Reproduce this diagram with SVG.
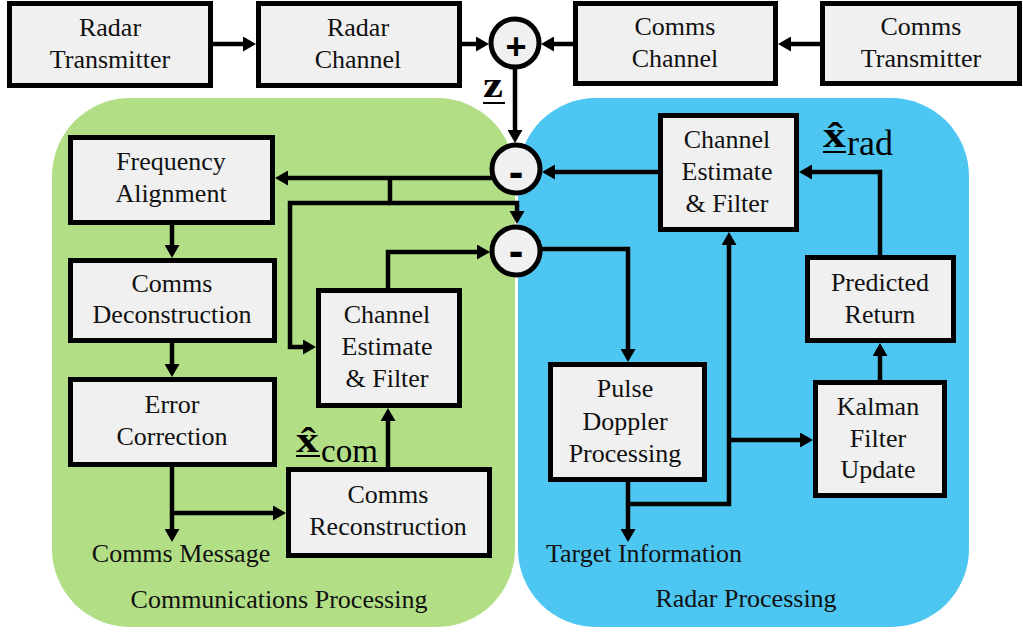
<svg xmlns="http://www.w3.org/2000/svg" width="1023" height="632" viewBox="0 0 1023 632">
<style>
.box{fill:#f0f0f0;stroke:#000;stroke-width:5}
.sum{fill:#f0f0f0;stroke:#000;stroke-width:5}
.t{font-family:"Liberation Serif","Times New Roman",serif;font-size:26px;fill:#111;text-anchor:middle}
.lbl{font-family:"Liberation Serif","Times New Roman",serif;font-size:26px;fill:#111;text-anchor:middle}
.op{font-family:"Liberation Sans",Arial,sans-serif;fill:#000;text-anchor:middle}
.math{font-family:"Liberation Serif","Times New Roman",serif;fill:#000}
.ca{fill:none;stroke:#000;stroke-width:4.5;stroke-linejoin:miter;marker-end:url(#ah)}
.ul{stroke:#000;stroke-width:2}
</style>
<defs>
<marker id="ah" viewBox="0 0 13 15" markerWidth="13" markerHeight="15" refX="7" refY="7.5" orient="auto" markerUnits="userSpaceOnUse">
<path d="M0,0 L13,7.5 L0,15 Z" fill="#000"/>
</marker>
</defs>

<g id="panels">
<rect id="comms-panel" x="52" y="98" width="463" height="529" rx="78" ry="78" fill="#b2df86"/>
<rect id="radar-panel" x="518" y="98" width="451" height="529" rx="78" ry="78" fill="#4dc6f2"/>
</g>

<g id="connectors">
<path class="ca" d="M213,44 H250"/>
<path class="ca" d="M462,44 H483"/>
<path class="ca" d="M573,44 H547"/>
<path class="ca" d="M820,44 H784"/>
<path class="ca" d="M515,68 V137"/>
<path class="ca" d="M660,172 H548"/>
<path class="ca" d="M492,178 H281"/>
<path class="ca" d="M390,178 V203 H517 V218"/>
<path class="ca" d="M390,203 H290 V347 H310"/>
<path class="ca" d="M388,290 V252 H484"/>
<path class="ca" d="M540,249 H628 V356"/>
<path class="ca" d="M172,225 V252"/>
<path class="ca" d="M172,343 V371"/>
<path class="ca" d="M172,467 V536"/>
<path class="ca" d="M172,513 H280"/>
<path class="ca" d="M388,467 V414"/>
<path class="ca" d="M628,482 V536"/>
<path class="ca" d="M628,504 H729 V238"/>
<path class="ca" d="M729,440 H807"/>
<path class="ca" d="M880,380 V349"/>
<path class="ca" d="M880,255 V172 H805"/>
</g>

<g id="radar-transmitter">
<rect class="box" x="9.5" y="3.5" width="201" height="82"/>
<text class="t" x="110" y="36">Radar</text>
<text class="t" x="110" y="68">Transmitter</text>
</g>
<g id="radar-channel">
<rect class="box" x="258.5" y="3.5" width="201" height="82"/>
<text class="t" x="358" y="36">Radar</text>
<text class="t" x="358" y="68">Channel</text>
</g>
<g id="comms-channel">
<rect class="box" x="575.5" y="3.5" width="200" height="80"/>
<text class="t" x="675" y="35">Comms</text>
<text class="t" x="675" y="67">Channel</text>
</g>
<g id="comms-transmitter">
<rect class="box" x="822.5" y="3.5" width="197" height="80"/>
<text class="t" x="921" y="35">Comms</text>
<text class="t" x="921" y="67">Transmitter</text>
</g>

<g id="sum-plus">
<circle class="sum" cx="515" cy="43" r="24"/>
<text class="op" x="516" y="59" font-size="36" font-weight="bold">+</text>
</g>
<g id="sum-minus-1">
<circle class="sum" cx="516" cy="169" r="24"/>
<text class="op" x="516" y="187" font-size="44" font-weight="bold">-</text>
</g>
<g id="sum-minus-2">
<circle class="sum" cx="516" cy="251" r="24"/>
<text class="op" x="516" y="266" font-size="44" font-weight="bold">-</text>
</g>

<g id="label-z">
<text class="math" x="483" y="97" font-size="36" font-weight="bold" textLength="20" lengthAdjust="spacingAndGlyphs">z</text>
<line class="ul" x1="483" y1="103" x2="505" y2="103"/>
</g>

<g id="frequency-alignment">
<rect class="box" x="70.5" y="137.5" width="202" height="85"/>
<text class="t" x="171" y="170">Frequency</text>
<text class="t" x="171" y="202">Alignment</text>
</g>
<g id="comms-deconstruction">
<rect class="box" x="70.5" y="260.5" width="204" height="80"/>
<text class="t" x="172" y="292">Comms</text>
<text class="t" x="172" y="323">Deconstruction</text>
</g>
<g id="error-correction">
<rect class="box" x="70.5" y="379.5" width="204" height="85"/>
<text class="t" x="172" y="413">Error</text>
<text class="t" x="172" y="445">Correction</text>
</g>
<g id="comms-channel-estimate">
<rect class="box" x="318.5" y="290.5" width="141" height="115"/>
<text class="t" x="387" y="323">Channel</text>
<text class="t" x="387" y="355">Estimate</text>
<text class="t" x="387" y="387">&amp; Filter</text>
</g>
<g id="comms-reconstruction">
<rect class="box" x="288.5" y="469.5" width="201" height="86"/>
<text class="t" x="388" y="503">Comms</text>
<text class="t" x="388" y="535">Reconstruction</text>
</g>
<g id="label-xcom">
<text class="math" transform="translate(296,452) scale(1.3,1)" font-size="35" font-weight="bold">x̂</text>
<line class="ul" x1="296" y1="456" x2="320" y2="456"/>
<text class="math" x="321" y="462" font-size="33">com</text>
</g>

<g id="radar-channel-estimate">
<rect class="box" x="660.5" y="115.5" width="136" height="114"/>
<text class="t" x="727" y="148">Channel</text>
<text class="t" x="727" y="180">Estimate</text>
<text class="t" x="727" y="212">&amp; Filter</text>
</g>
<g id="label-xrad">
<text class="math" transform="translate(823,147) scale(1.3,1)" font-size="35" font-weight="bold">x̂</text>
<line class="ul" x1="823" y1="152" x2="846" y2="152"/>
<text class="math" x="847" y="155" font-size="36">rad</text>
</g>
<g id="predicted-return">
<rect class="box" x="807.5" y="257.5" width="146" height="83"/>
<text class="t" x="880" y="291">Predicted</text>
<text class="t" x="880" y="323">Return</text>
</g>
<g id="pulse-doppler">
<rect class="box" x="550.5" y="364.5" width="154" height="115"/>
<text class="t" x="625" y="397">Pulse</text>
<text class="t" x="625" y="430">Doppler</text>
<text class="t" x="625" y="462">Processing</text>
</g>
<g id="kalman-filter">
<rect class="box" x="815.5" y="382.5" width="129" height="113"/>
<text class="t" x="878" y="415">Kalman</text>
<text class="t" x="878" y="447">Filter</text>
<text class="t" x="878" y="478">Update</text>
</g>

<g id="labels">
<text class="lbl" x="181" y="562">Comms Message</text>
<text class="lbl" x="279" y="608">Communications Processing</text>
<text class="lbl" x="644" y="562">Target Information</text>
<text class="lbl" x="746" y="607">Radar Processing</text>
</g>
</svg>
